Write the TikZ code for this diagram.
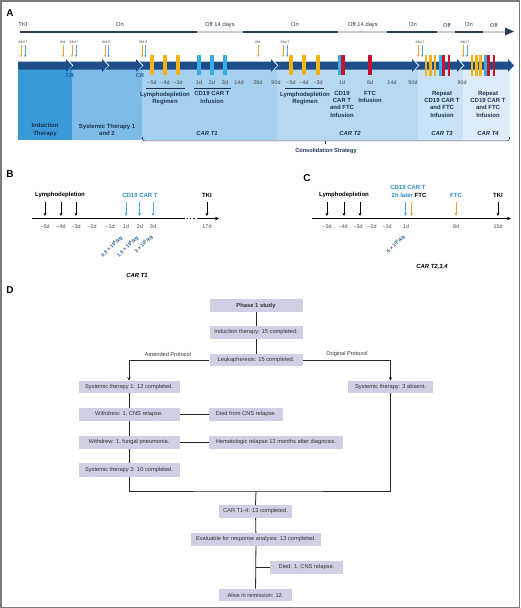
\documentclass[tikz,border=0pt]{standalone}
\usepackage{fontspec}
\setmainfont{Liberation Sans}
\usetikzlibrary{arrows.meta}
\definecolor{navy}{HTML}{1D4E89}
\definecolor{tkidark}{HTML}{2E3F55}
\definecolor{tkilight}{HTML}{C9CED4}
\definecolor{yel}{HTML}{F5B31B}
\definecolor{cblue}{HTML}{3AAEE2}
\definecolor{cred}{HTML}{C4122F}
\definecolor{bmor}{HTML}{E9A23B}
\definecolor{itbl}{HTML}{4FA9DF}
\definecolor{indc}{HTML}{3A9AD7}
\definecolor{sysc}{HTML}{7EBCE7}
\definecolor{tone}{HTML}{A6D0EF}
\definecolor{ttwo}{HTML}{B6D8F1}
\definecolor{tthree}{HTML}{C9E2F5}
\definecolor{tfour}{HTML}{DDECF8}
\definecolor{dtext}{HTML}{1E3456}
\definecolor{crc}{HTML}{1F5C9A}
\definecolor{daygray}{HTML}{4A4A4A}
\definecolor{bluetext}{HTML}{2E8BC9}
\definecolor{dosec}{HTML}{2A5D91}
\definecolor{boxf}{HTML}{CFD0E3}
\definecolor{framec}{HTML}{7A7A7A}
\definecolor{boxtext}{HTML}{333333}
\newcommand{\mybandseg}[2]{%
  \fill[navy] ({#1-2.2},61.5) -- ({#2-6},61.5) -- ({#2-6},59) -- (#2,65.5) -- ({#2-6},72) -- ({#2-6},69.5) -- ({#1-2.2},69.5) -- ({#1+1.5},65.5) -- cycle;}
\begin{document}
\begin{tikzpicture}[x=1pt,y=-1pt,
  every node/.style={inner sep=0pt},
  panel/.style={font=\bfseries\fontsize{10}{12}\selectfont},
  tki/.style={font=\fontsize{5.8}{6.8}\selectfont, text=tkidark},
  bmit/.style={font=\fontsize{3.4}{4}\selectfont, text=daygray},
  day/.style={font=\fontsize{5.4}{6.4}\selectfont, text=daygray},
  blab/.style={font=\bfseries\fontsize{6}{7.3}\selectfont, text=dtext, align=center},
  cart/.style={font=\bfseries\itshape\fontsize{5.9}{7}\selectfont, text=dtext},
  crlab/.style={font=\bfseries\fontsize{5.6}{6.6}\selectfont, text=crc},
  bmarr/.style={-{Stealth[length=2.2pt,width=2.2pt]}, line width=0.6, bmor},
  itarr/.style={-{Stealth[length=2.2pt,width=2.2pt]}, line width=0.6, itbl},
  tarr/.style={-{Stealth[length=3.2pt,width=3pt]}, line width=0.8},
  dose/.style={font=\bfseries\fontsize{4.9}{6}\selectfont, text=dosec, rotate=45, anchor=east},
  box/.style={fill=boxf, font=\fontsize{5.7}{6.8}\selectfont, text=boxtext, minimum height=12.5pt},
  conn/.style={line width=0.8, black!85},
  plab/.style={font=\fontsize{5.6}{6.6}\selectfont, text=boxtext}
]
\useasboundingbox (0,0) rectangle (520,608);
\draw[framec, line width=1.5] (0.75,0.75) rectangle (519.25,607.25);

% ---------------- Panel A ----------------
\node[panel] (pA) at (10,13.5) {A};
% TKI line
\draw[tkidark, line width=2] (20,31.5) -- (197,31.5);
\draw[tkilight, line width=2] (197,31.5) -- (243,31.5);
\draw[tkidark, line width=2] (243,31.5) -- (338,31.5);
\draw[tkilight, line width=2] (338,31.5) -- (387,31.5);
\draw[tkidark, line width=2] (387,31.5) -- (437,31.5);
\draw[tkilight, line width=2] (437,31.5) -- (455,31.5);
\draw[tkidark, line width=2] (455,31.5) -- (483,31.5);
\draw[tkilight, line width=2] (483,31.5) -- (505,31.5);
\fill[tkidark] (505,27.5) -- (514,31.5) -- (505,35.5) -- cycle;
\node[tki] (tkiA) at (23,25) {TKI};
\node[tki] (on1) at (120,25) {On};
\node[tki] (off1) at (220,25) {Off 14 days};
\node[tki] (on2) at (295,25) {On};
\node[tki] (off2) at (363,25) {Off 14 days};
\node[tki] (on3) at (413,25) {On};
\node[tki] (off3) at (447,25) {Off};
\node[tki] (on4) at (469,25) {On};
\node[tki] (off4) at (494,25) {Off};

% BM / IT arrows
\foreach \o/\b/\c [count=\i] in {21/25/23, 72/76/74, 105/108.5/106.7, 142/145.5/143.7, 283/287/285, 418/422/420, 463/467/465}{
  \node[bmit] (bmit\i) at (\c,42) {BM\,IT};
  \draw[bmarr] (\o,45) -- (\o,57);
  \draw[itarr] (\b,45) -- (\b,57);
}
\foreach \o [count=\i] in {63,258}{
  \node[bmit] (bm\i) at (\o,42) {BM};
  \draw[bmarr] (\o,45) -- (\o,57);
}

% background blocks
\fill[indc] (18,65.5) rectangle (72,140);
\fill[sysc] (72,65.5) rectangle (142,140);
\fill[tone] (142,65.5) rectangle (277,140);
\fill[ttwo] (277,65.5) rectangle (418,140);
\fill[tthree] (418,65.5) rectangle (463,140);
\fill[tfour] (463,65.5) rectangle (510,140);

% band
\fill[navy] (18,61.5) -- (66,61.5) -- (66,59) -- (72,65.5) -- (66,72) -- (66,69.5) -- (18,69.5) -- cycle;
\mybandseg{72}{108}
\mybandseg{108}{142}
\mybandseg{142}{277}
\mybandseg{277}{418}
\mybandseg{418}{463}
\mybandseg{463}{514}

% bars
\foreach \x in {152,165,178,291,304,318}{\fill[yel] ({\x-2},55) rectangle ({\x+2},75);}
\foreach \x in {199,212,225}{\fill[cblue] ({\x-2},55) rectangle ({\x+2},75);}
\fill[cblue] (337.5,55) rectangle (340.5,75);
\fill[cred] (340.5,55) rectangle (345,75);
\fill[cred] (367.8,55) rectangle (372.2,75);
\foreach \x in {426,430.5,435,472,476.3,480.6}{\fill[yel] ({\x-1.4},55) rectangle ({\x+1.4},76);}
\fill[cblue] (439.4,55) rectangle (442,76);
\fill[cred] (442,55) rectangle (445,76);
\fill[cred] (447.5,55) rectangle (450.2,76);
\fill[cblue] (484.4,55) rectangle (487,76);
\fill[cred] (487,55) rectangle (490,76);
\fill[cred] (492.5,55) rectangle (495.2,76);

\node[crlab] (cr1) at (70,75.5) {CR};
\node[crlab] (cr2) at (140,75.5) {CR};

% day labels
\foreach \x/\t [count=\i] in {152/−5d,165/−4d,178/−3d,199/1d,212/2d,225/3d,239/14d,258/28d,276/90d,291/−5d,304/−4d,318/−3d,342/1d,370/8d,392/14d,413/90d,462/90d}{
  \node[day] (dA\i) at (\x,83) {\t};
}
\draw[dtext, line width=0.6] (146,88.5) -- (185,88.5);
\draw[dtext, line width=0.6] (194,88.5) -- (231,88.5);
\draw[dtext, line width=0.6] (285,88.5) -- (324,88.5);

\node[blab, anchor=north] (lr1) at (165,91.5) {Lymphodepletion\\Regimen};
\node[blab, anchor=north] (ci1) at (212,91.5) {CD19 CAR T\\Infusion};
\node[blab, anchor=north] (lr2) at (305,91.5) {Lymphodepletion\\Regimen};
\node[blab, anchor=north] (ci2) at (342,91) {CD19\\CAR T\\and FTC\\Infusion};
\node[blab, anchor=north] (fi2) at (370,91) {FTC\\Infusion};
\node[blab, anchor=north] (rp3) at (442,91) {Repeat\\CD19 CAR T\\and FTC\\Infusion};
\node[blab, anchor=north] (rp4) at (488,91) {Repeat\\CD19 CAR T\\and FTC\\Infusion};

\node[blab] (indl) at (45,130) {Induction\\Therapy};
\node[blab] (sysl) at (107,130) {Systemic Therapy 1\\and 2};
\node[cart] (ct1) at (207,133) {CAR T1};
\node[cart] (ct2) at (350,133) {CAR T2};
\node[cart] (ct3) at (442,133) {CAR T3};
\node[cart] (ct4) at (488,133) {CAR T4};

\draw[dtext, line width=0.6, rounded corners=2] (142.5,137) -- (142.5,140.8) -- (509.5,140.8) -- (509.5,137);
\draw[dtext, line width=0.6] (325,140.8) -- (325,143.8);
\node[blab, font=\bfseries\fontsize{5.6}{6.6}\selectfont] (cons) at (326,151) {Consolidation Strategy};

% ---------------- Panel B ----------------
\node[panel] (pB) at (10,174) {B};
\node[blab, text=black] (lyB) at (60,195) {Lymphodepletion};
\node[blab, text=bluetext] (cdB) at (140,195) {CD19 CAR T};
\node[blab, text=black] (tkB) at (207,195) {TKI};
\foreach \x in {45,61,76,207}{\draw[tarr, black] (\x,202) -- (\x,216);}
\foreach \x in {126,139.5,153}{\draw[tarr, itbl] (\x,202) -- (\x,216);}
\draw[line width=0.8] (32,218.5) -- (185,218.5);
\draw[line width=0.8, dash pattern=on 1.6pt off 1.6pt] (186.5,218.5) -- (196,218.5);
\draw[line width=0.8, -{Stealth[length=4pt,width=3.5pt]}] (197,218.5) -- (219,218.5);
\foreach \x/\t [count=\i] in {45/−5d,61/−4d,76/−3d,92/−2d,110/−1d,126/1d,140/2d,153/3d,207/17d}{
  \node[day] (dB\i) at (\x,226.5) {\t};
}
\node[dose] (dose1) at (121.5,237) {0.5 × 10\textsuperscript{6}/kg};
\node[dose] (dose2) at (137.5,237) {1.5 × 10\textsuperscript{6}/kg};
\node[dose] (dose3) at (152,236) {3 × 10\textsuperscript{6}/kg};
\node[cart, text=black] (ctB) at (137,275) {CAR T1};

% ---------------- Panel C ----------------
\node[panel] (pC) at (307,178) {C};
\node[blab, text=black] (lyC) at (344,195) {Lymphodepletion};
\node[blab, text=bluetext] (cdC) at (408,187) {CD19 CAR T};
\node[blab, text=bluetext] (hC) at (409,195) {2h later \textcolor{black}{FTC}};
\node[blab, text=bluetext] (ftC) at (456,195) {FTC};
\node[blab, text=black] (tkC) at (498,195) {TKI};
\foreach \x in {327,344,360,498}{\draw[tarr, black] (\x,202) -- (\x,216);}
\draw[tarr, itbl] (405.5,202) -- (405.5,216);
\draw[tarr, bmor] (411.5,202) -- (411.5,216);
\draw[tarr, bmor] (456,202) -- (456,216);
\draw[line width=0.8, -{Stealth[length=4pt,width=3.5pt]}] (312,218.5) -- (511,218.5);
\foreach \x/\t [count=\i] in {327/−5d,343/−4d,358/−3d,372/−2d,387/−1d,406/1d,456/8d,498/15d}{
  \node[day] (dC\i) at (\x,226.5) {\t};
}
\node[dose] (dose4) at (404,236) {5 × 10\textsuperscript{6}/kg};
\node[cart, text=black] (ctC) at (432,267) {CAR T2,3,4};

% ---------------- Panel D ----------------
\node[panel] (pD) at (10,290) {D};
\node[box, minimum width=93pt, minimum height=13pt, font=\bfseries\fontsize{5.8}{6.8}\selectfont] (p1) at (256,305.5) {Phase 1 study};
\node[box, minimum width=93pt, minimum height=13pt] (ind) at (256,332.5) {Induction therapy: 15 completed.};
\node[box, minimum width=93pt] (leuk) at (256,360) {Leukapheresis: 15 completed.};
\node[box, minimum width=101pt] (s1) at (129,387) {Systemic therapy 1: 12 completed.};
\node[box, minimum width=85pt] (sA) at (390.5,387) {Systemic therapy: 3 absent.};
\node[box, minimum width=101pt, minimum height=13pt] (w1) at (129,414.5) {Withdrew: 1, CNS relapse.};
\node[box, minimum width=74pt, minimum height=13pt] (dcns) at (246,414.5) {Died from CNS relapse.};
\node[box, minimum width=101pt, minimum height=13pt] (w2) at (129,442.5) {Withdrew: 1, fungal pneumonia.};
\node[box, minimum width=134pt, minimum height=13pt] (hem) at (276,442.5) {Hematologic relapse 12 months after diagnosis.};
\node[box, minimum width=101pt, minimum height=13.5pt] (s2) at (129,470) {Systemic therapy 2: 10 completed.};
\node[box, minimum width=73pt, minimum height=13pt] (cart) at (255.5,511.5) {CAR T1-4: 13 completed.};
\node[box, minimum width=130pt, minimum height=13pt] (eval) at (256,539.5) {Evaluable for response analysis: 13 completed.};
\node[box, minimum width=73pt, minimum height=13pt] (died) at (306.5,567.5) {Died: 1, CNS relapse.};
\node[box, minimum width=73pt] (alive) at (255.5,595) {Alive in remission: 12.};

\node[plab] (amd) at (168,354) {Amended Protocol};
\node[plab] (orig) at (347,354) {Original Protocol};

\coordinate (jn) at (256,491);
\coordinate (dj) at (256,567.5);
\draw[conn] (p1) -- (ind);
\draw[conn] (ind) -- (leuk);
\draw[conn, -{Stealth[length=3.5pt,width=3.5pt]}] (leuk.west) -| (s1.north);
\draw[conn, -{Stealth[length=3.5pt,width=3.5pt]}] (leuk.east) -| (sA.north);
\draw[conn] (s1) -- (w1);
\draw[conn] (w1) -- (w2);
\draw[conn] (w2) -- (s2);
\draw[conn] (w1) -- (dcns);
\draw[conn] (w2) -- (hem);
\draw[conn] (s2.south) |- (jn) -| (sA.south);
\draw[conn] (jn) -- (cart.north);
\draw[conn] (cart) -- (eval);
\draw[conn] (eval) -- (alive);
\draw[conn] (dj) -- (died);
\end{tikzpicture}
\end{document}
